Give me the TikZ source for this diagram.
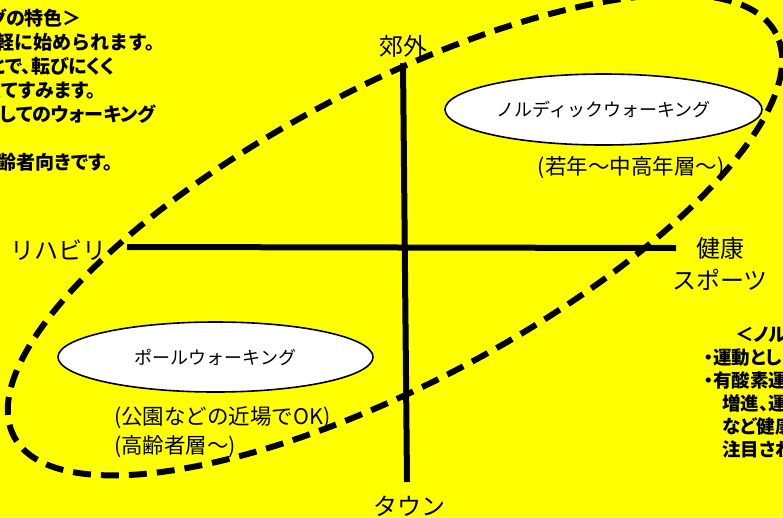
\documentclass[tikz,border=0pt]{standalone}
\usepackage{fontspec}
\setmainfont{Noto Sans CJK JP}
\newfontfamily\jpprop[RawFeature=+palt]{Noto Sans CJK JP}
\usetikzlibrary{shapes.geometric}
\definecolor{bgyellow}{RGB}{255,255,0}
\tikzset{
  axisline/.style={line width=6pt,black},
  dashring/.style={line width=6pt,black,dash pattern=on 18pt off 10pt},
  ellbox/.style={ellipse,draw=black,line width=1.6pt,fill=white,inner sep=0pt,
    font=\fontsize{18}{22}\selectfont},
  axislabel/.style={font=\fontsize{24}{32}\selectfont,inner sep=0pt},
  sublabel/.style={font=\fontsize{21.5}{26}\selectfont,inner sep=0pt},
  sidetext/.style={font=\jpprop\fontsize{19}{22}\selectfont\bfseries,inner sep=0pt},
  sidetextfw/.style={font=\fontsize{19}{22}\selectfont\bfseries,inner sep=0pt},
  sidetextr/.style={font=\jpprop\fontsize{18.5}{22}\selectfont\bfseries,inner sep=0pt},
}
\begin{document}
\begin{tikzpicture}[x=1pt,y=-1pt]
\useasboundingbox (0,0) rectangle (783,517);
\fill[bgyellow] (0,0) rectangle (783,517);
\begin{scope}
\clip (0,0) rectangle (783,517);
% axes
\coordinate (vtop) at (403,63);
\coordinate (vbot) at (407,482);
\coordinate (hleft) at (127,247);
\coordinate (hright) at (676,248);
\draw[axisline] (vtop) -- (vbot);
\draw[axisline] (hleft) -- (hright);
% axis labels
\node[axislabel] (suburb) at (403,46) {郊外};
\node[axislabel] (town) at (409,506) {タウン};
\node[axislabel] (rehab) at (58,250) {リハビリ};
\node[axislabel,align=center] (health) at (720,264) {健康\\スポーツ};
% ellipses
\node[ellbox,minimum width=317pt,minimum height=71pt] (nordic) at (603.5,109.5) {ノルディックウォーキング};
\node[ellbox,minimum width=315pt,minimum height=70pt] (pole) at (215.5,357) {ポールウォーキング};
% sub labels
\node[sublabel] (nordicsub) at (631,168) {(若年～中高年層～)};
\node[sublabel,anchor=west] (polesub1) at (114,418) {(公園などの近場でOK)};
\node[sublabel,anchor=west] (polesub2) at (114,447) {(高齢者層～)};
% left side text (clipped)
\node[sidetext,anchor=base east] (l1) at (82,25) {グの特色＞};
\node[sidetextfw,anchor=base east] (l2) at (165,49) {軽に始められます。};
\node[sidetext,anchor=base east] (l3) at (115,73) {とで、転びにくく};
\node[sidetext,anchor=base east] (l4) at (96,97) {くてすみます。};
\node[sidetext,anchor=base east] (l5) at (156,121) {としてのウォーキング};
\node[sidetext,anchor=base east] (l7) at (113,169) {齢者向きです。};
% right side text (clipped)
\node[sidetextr,anchor=base west] (r1) at (735,341) {＜ノルデ};
\node[sidetextr,anchor=base west] (r2) at (704,364) {・運動とし};
\node[sidetextr,anchor=base west] (r3) at (704,387) {・有酸素運};
\node[sidetextr,anchor=base west] (r4) at (722,410) {増進、運};
\node[sidetextr,anchor=base west] (r5) at (722,433) {など健康};
\node[sidetextr,anchor=base west] (r6) at (722,456) {注目され};
% dashed ring
\coordinate (ringc) at (395,235);
\draw[dashring,rotate around={27.9:(ringc)}] (ringc) ellipse [x radius=431pt,y radius=148pt];
\end{scope}
\end{tikzpicture}
\end{document}
